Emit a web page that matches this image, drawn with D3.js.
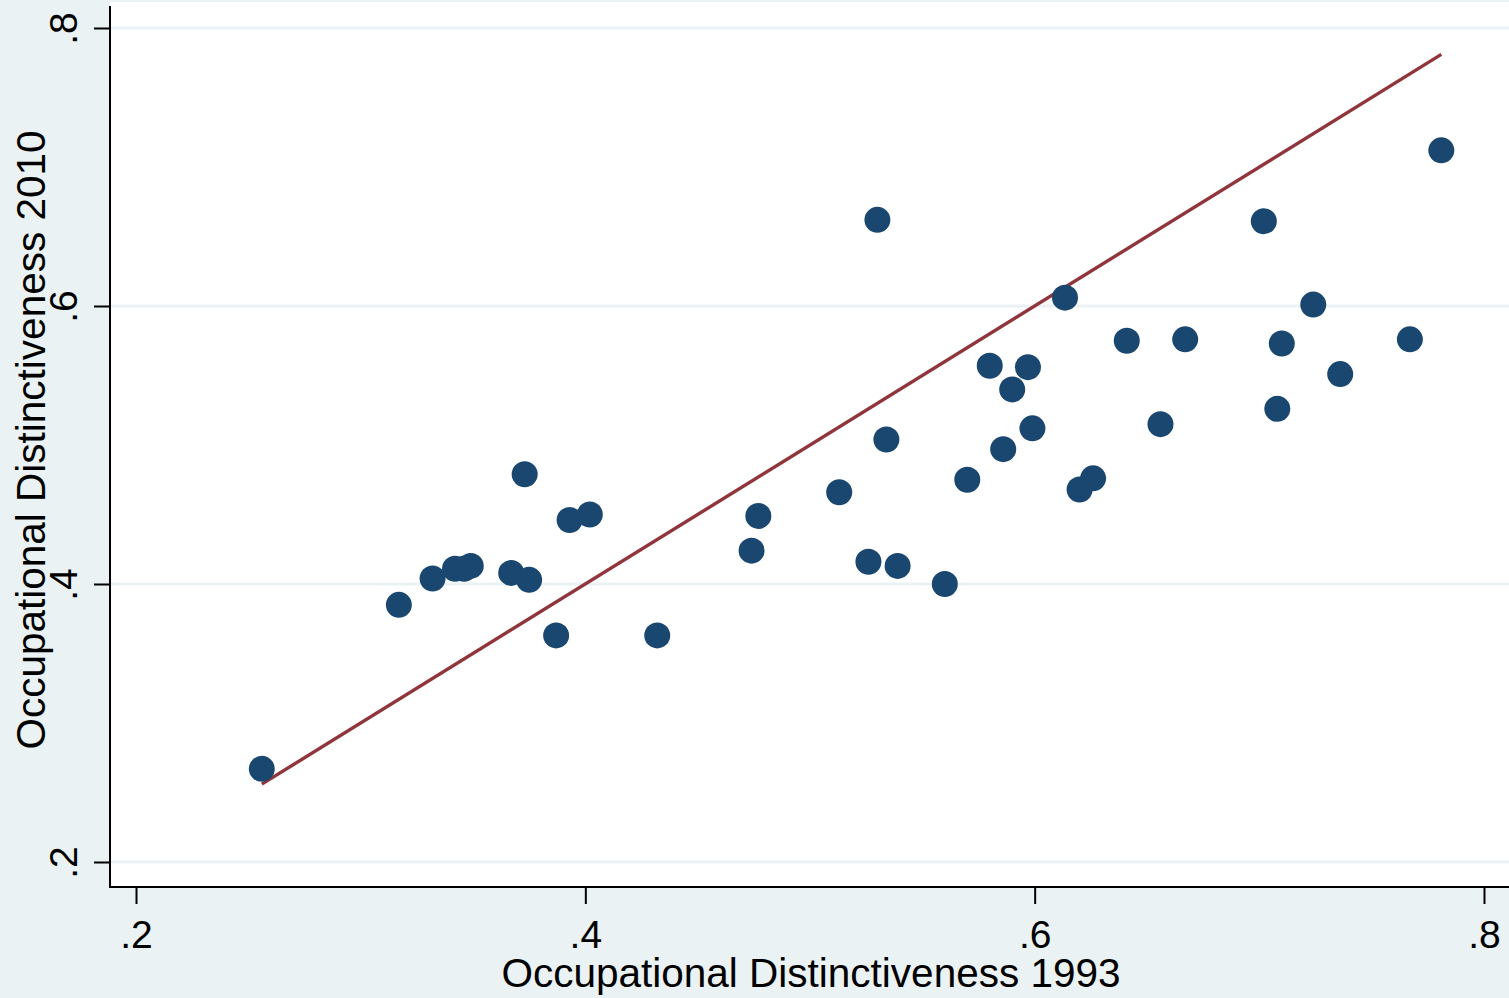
<!DOCTYPE html>
<html>
<head>
<meta charset="utf-8">
<script src="https://cdn.jsdelivr.net/npm/d3@7"></script>
<style>
  body { margin: 0; background: #eaf2f3; }
  svg { display: block; font-family: "Liberation Sans", Arial, sans-serif; }
</style>
</head>
<body>
<svg id="chart" width="1509" height="998"></svg>
<script>
// occupational distinctiveness, one point per occupation
const distinct1993 = [
    0.256, 0.317, 0.332, 0.342, 0.346, 0.349, 0.367, 0.375, 0.373, 0.393,
    0.402, 0.387, 0.432, 0.474, 0.477, 0.513, 0.526, 0.539, 0.530, 0.534,
    0.560, 0.570, 0.580, 0.586, 0.590, 0.597, 0.599, 0.6135, 0.620, 0.626,
    0.641, 0.656, 0.667, 0.702, 0.708, 0.710, 0.724, 0.736, 0.767, 0.781
];
const distinct2010 = [
    0.267, 0.385, 0.404, 0.411, 0.411, 0.413, 0.408, 0.403, 0.479, 0.446,
    0.450, 0.363, 0.363, 0.424, 0.449, 0.466, 0.416, 0.413, 0.662, 0.504,
    0.400, 0.475, 0.557, 0.497, 0.540, 0.556, 0.512, 0.606, 0.468, 0.476,
    0.575, 0.515, 0.576, 0.661, 0.526, 0.573, 0.601, 0.551, 0.576, 0.712
];
const tickValues = [0.2, 0.4, 0.6, 0.8];
const xTitle = "Occupational Distinctiveness 1993";
const yTitle = "Occupational Distinctiveness 2010";

const svg = d3.select("#chart");
const width = +svg.attr("width");
const height = +svg.attr("height");

const plot = { left: 110, top: 2, right: width, bottom: 887 };

const x = d3.scaleLinear().domain([0.2, 0.8]).range([136, 1484]);
const y = d3.scaleLinear().domain([0.2, 0.8]).range([862, 28]);

const points = distinct1993.map((d, i) => ({ x: d, y: distinct2010[i] }));

const fmt = v => d3.format(".1f")(v).replace(/^0/, "");

// background + plot region
svg.append("rect").attr("width", width).attr("height", height).attr("fill", "#eaf2f3");
svg.append("rect")
    .attr("x", plot.left).attr("y", plot.top)
    .attr("width", plot.right - plot.left).attr("height", plot.bottom - plot.top)
    .attr("fill", "#ffffff");

// horizontal grid
svg.append("g")
    .selectAll("line")
    .data(tickValues)
    .join("line")
    .attr("x1", plot.left).attr("x2", plot.right)
    .attr("y1", d => y(d)).attr("y2", d => y(d))
    .attr("stroke", "#eaf2f3")
    .attr("stroke-width", 3);

// 45 degree reference line across the range of the data
const xr = d3.extent(distinct1993);
svg.append("path")
    .datum(xr.map(v => ({ x: v, y: v })))
    .attr("d", d3.line().x(d => x(d.x)).y(d => y(d.y)))
    .attr("fill", "none")
    .attr("stroke", "#90353b")
    .attr("stroke-width", 3.4);

// markers
svg.append("g")
    .selectAll("circle")
    .data(points)
    .join("circle")
    .attr("cx", d => x(d.x))
    .attr("cy", d => y(d.y))
    .attr("r", 13)
    .attr("fill", "#1a476f");

// axes
const xAxis = svg.append("g")
    .attr("transform", `translate(0,${plot.bottom})`)
    .call(d3.axisBottom(x).tickValues(tickValues).tickFormat(fmt).tickSize(17).tickSizeOuter(0).tickPadding(0));
xAxis.select(".domain").remove();
xAxis.selectAll(".tick line").attr("stroke", "#000").attr("stroke-width", 2);
xAxis.selectAll(".tick text")
    .attr("y", 61).attr("dy", 0)
    .attr("font-size", 39)
    .attr("fill", "#000");

const yAxis = svg.append("g")
    .attr("transform", `translate(${plot.left},0)`)
    .call(d3.axisLeft(y).tickValues(tickValues).tickFormat(fmt).tickSize(16).tickSizeOuter(0));
yAxis.select(".domain").remove();
yAxis.selectAll(".tick line").attr("stroke", "#000").attr("stroke-width", 2);
yAxis.selectAll(".tick text")
    .attr("x", 0).attr("dy", 0)
    .attr("transform", "translate(-33,0) rotate(-90)")
    .attr("text-anchor", "middle")
    .attr("font-size", 39)
    .attr("fill", "#000");

// axis lines
svg.append("line")
    .attr("x1", plot.left).attr("x2", plot.left)
    .attr("y1", plot.top + 4).attr("y2", plot.bottom + 1)
    .attr("stroke", "#000").attr("stroke-width", 2);
svg.append("line")
    .attr("x1", plot.left).attr("x2", plot.right)
    .attr("y1", plot.bottom).attr("y2", plot.bottom)
    .attr("stroke", "#000").attr("stroke-width", 2);

// titles
svg.append("text")
    .attr("x", 811)
    .attr("y", 987)
    .attr("text-anchor", "middle")
    .attr("font-size", 40.5)
    .text(xTitle);

svg.append("text")
    .attr("transform", "translate(45,440) rotate(-90)")
    .attr("text-anchor", "middle")
    .attr("font-size", 40.5)
    .text(yTitle);
</script>
</body>
</html>
